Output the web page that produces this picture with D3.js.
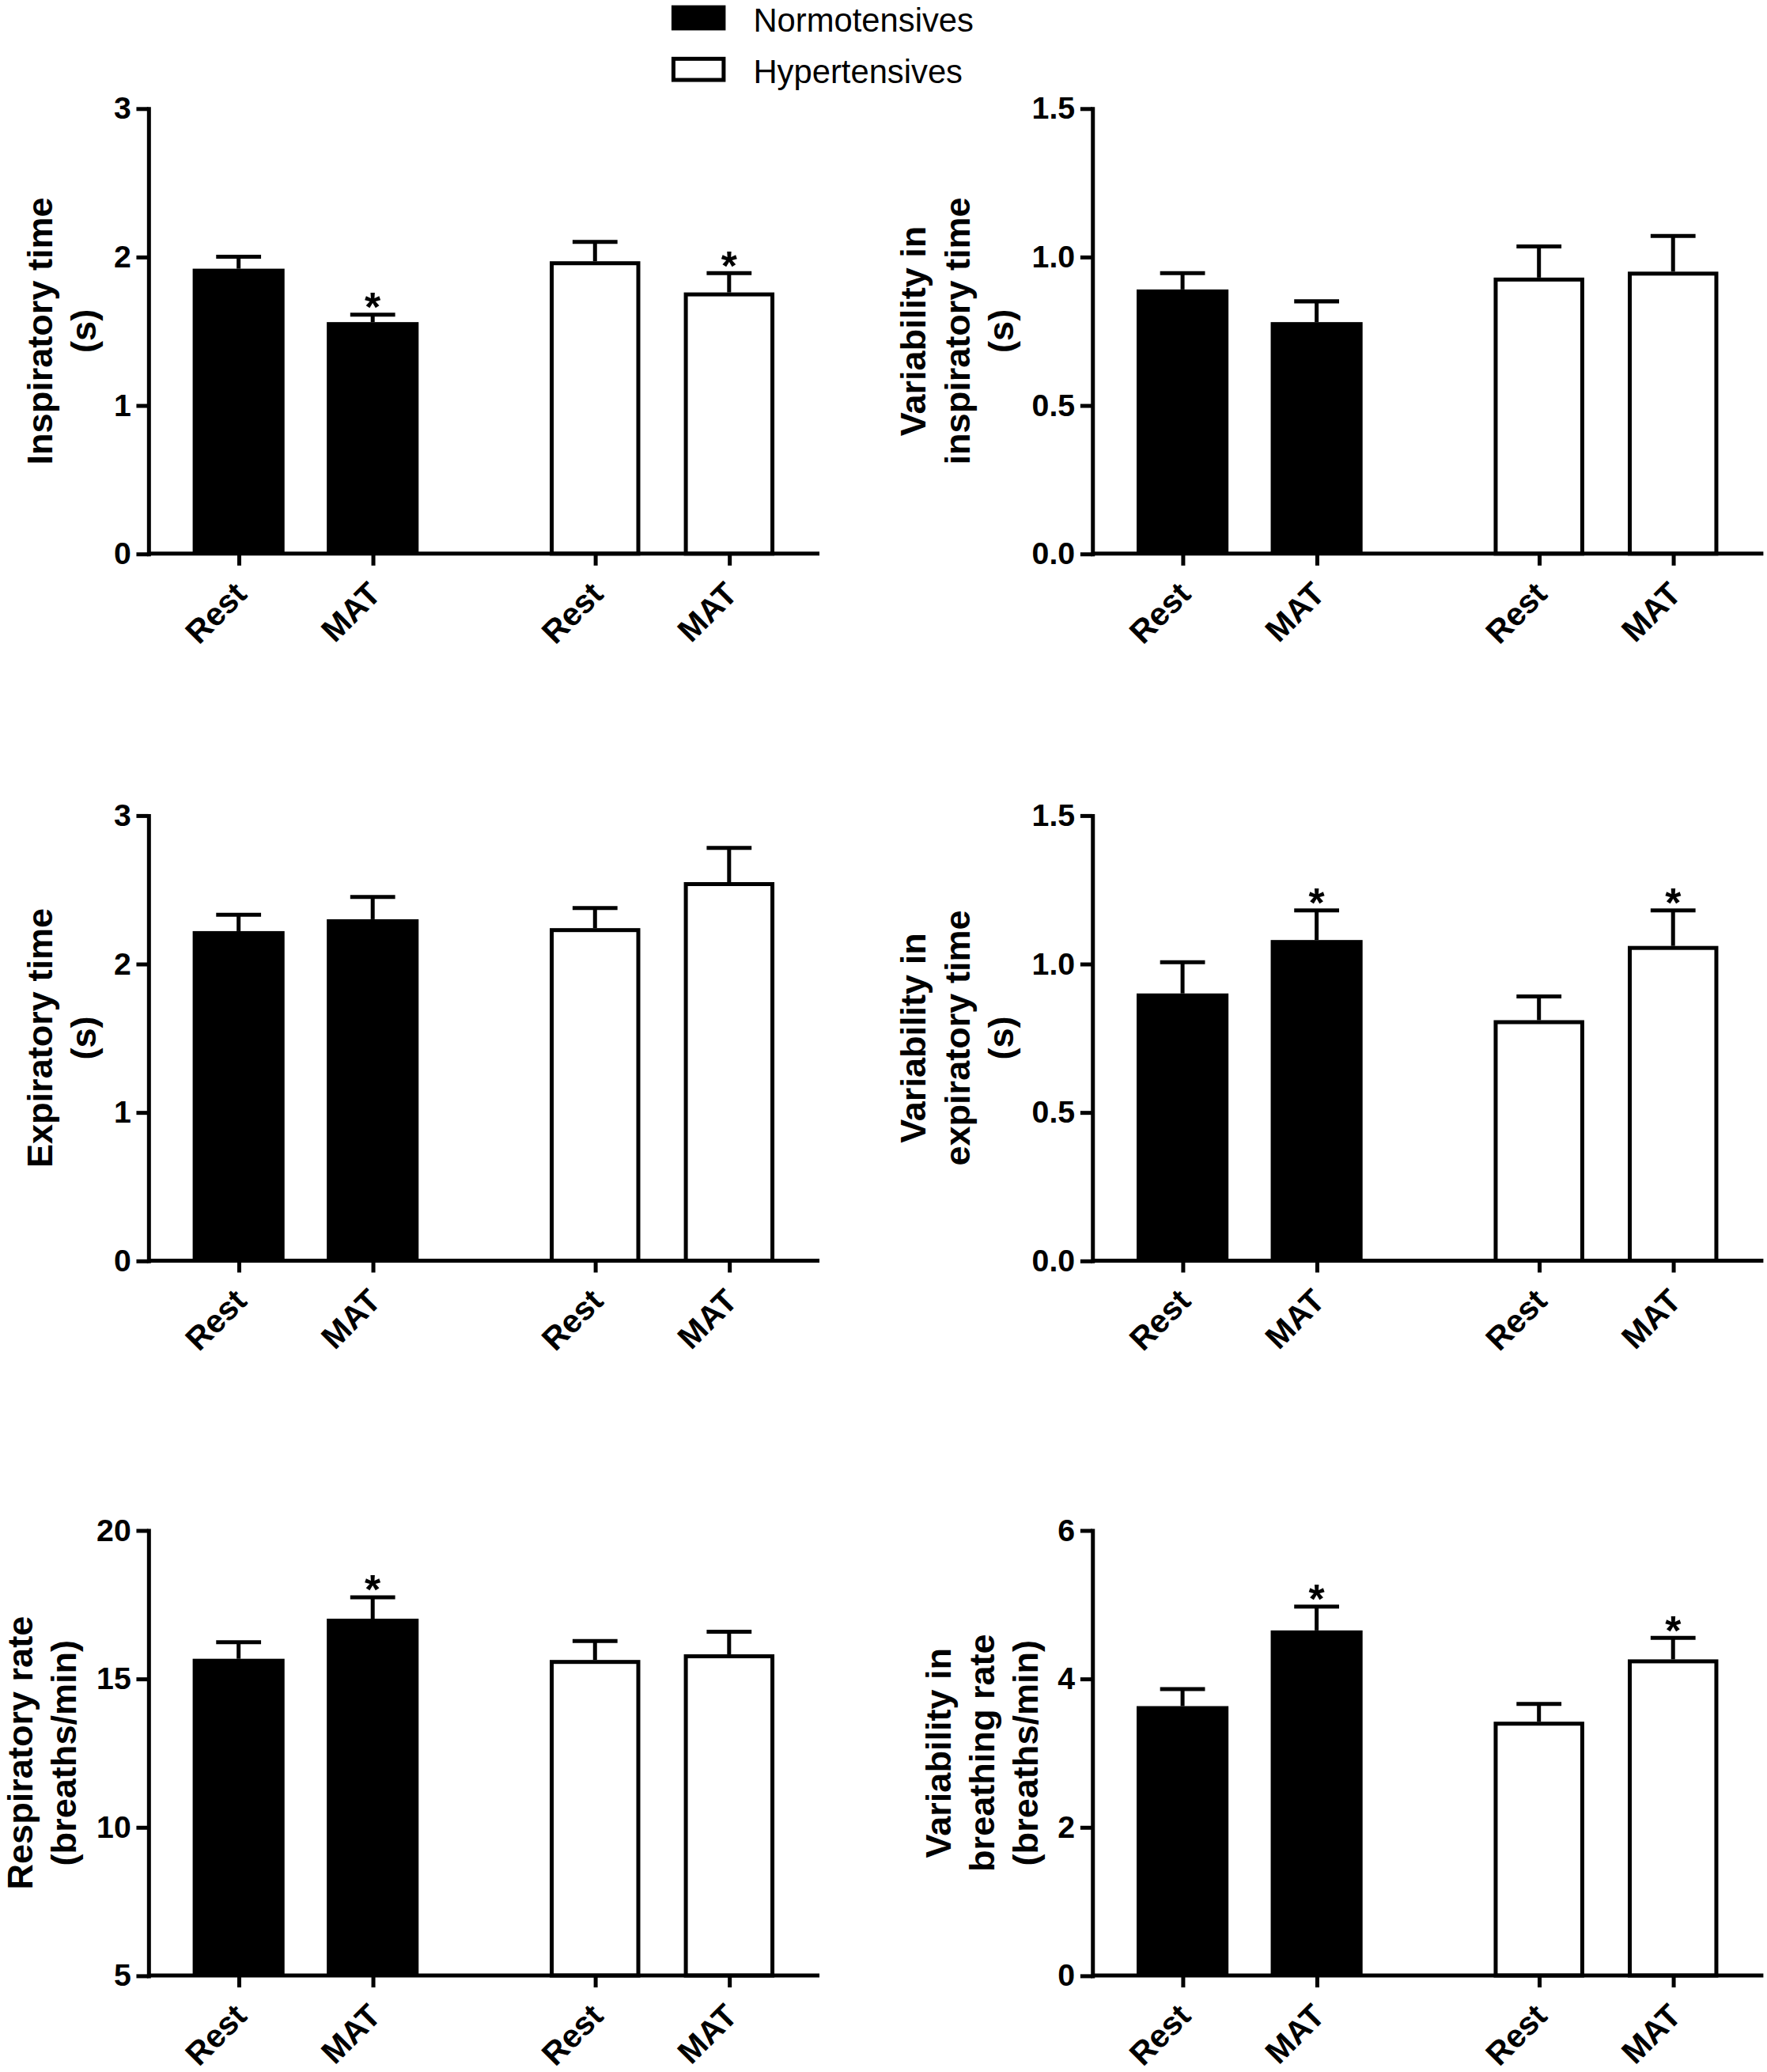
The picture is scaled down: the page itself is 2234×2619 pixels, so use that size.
<!DOCTYPE html>
<html>
<head>
<meta charset="utf-8">
<title>Breathing pattern at rest and during MAT</title>
<script src="https://d3js.org/d3.v7.min.js"></script>
<style>
  body { margin: 0; background: #fff; }
  svg { display: block; }
  text { font-family: "Liberation Sans", Arial, sans-serif; fill: #000; }
</style>
</head>
<body>
<svg id="chart"></svg>
<script>
// every series is in the order: Normo Rest, Normo MAT, Hyper Rest, Hyper MAT
const groups = ["Normotensives", "Hypertensives"];
const conditions = ["Rest", "MAT"];

const inspTime = [1.92, 1.56, 1.97, 1.76];
const inspTimeSem = [0.08, 0.05, 0.13, 0.13];
const inspTimeSig = [false, true, false, true];
const inspTimeTicks = [0, 1, 2, 3];

const inspVar = [0.89, 0.78, 0.93, 0.95];
const inspVarSem = [0.055, 0.07, 0.105, 0.12];
const inspVarSig = [false, false, false, false];
const inspVarTicks = [0, 0.5, 1, 1.5];

const expTime = [2.22, 2.30, 2.24, 2.55];
const expTimeSem = [0.11, 0.15, 0.135, 0.23];
const expTimeSig = [false, false, false, false];
const expTimeTicks = [0, 1, 2, 3];

const expVar = [0.90, 1.08, 0.81, 1.06];
const expVarSem = [0.105, 0.10, 0.08, 0.12];
const expVarSig = [false, true, false, true];
const expVarTicks = [0, 0.5, 1, 1.5];

const respRate = [15.67, 17.02, 15.63, 15.82];
const respRateSem = [0.56, 0.72, 0.64, 0.76];
const respRateSig = [false, true, false, false];
const respRateTicks = [5, 10, 15, 20];

const rateVar = [3.63, 4.65, 3.42, 4.26];
const rateVarSem = [0.23, 0.32, 0.24, 0.29];
const rateVarSig = [false, true, false, true];
const rateVarTicks = [0, 2, 4, 6];

const panels = [
  {row: 0, col: 0, mean: inspTime, sem: inspTimeSem, sig: inspTimeSig, ticks: inspTimeTicks, fmt: d3.format("d"),
   title: ["Inspiratory time", "(s)"], titleOff: 40},
  {row: 0, col: 1, mean: inspVar, sem: inspVarSem, sig: inspVarSig, ticks: inspVarTicks, fmt: d3.format(".1f"),
   title: ["Variability in", "inspiratory time", "(s)"], titleOff: 60},
  {row: 1, col: 0, mean: expTime, sem: expTimeSem, sig: expTimeSig, ticks: expTimeTicks, fmt: d3.format("d"),
   title: ["Expiratory time", "(s)"], titleOff: 40},
  {row: 1, col: 1, mean: expVar, sem: expVarSem, sig: expVarSig, ticks: expVarTicks, fmt: d3.format(".1f"),
   title: ["Variability in", "expiratory time", "(s)"], titleOff: 60},
  {row: 2, col: 0, mean: respRate, sem: respRateSem, sig: respRateSig, ticks: respRateTicks, fmt: d3.format("d"),
   title: ["Respiratory rate", "(breaths/min)"], titleOff: 55},
  {row: 2, col: 1, mean: rateVar, sem: rateVarSem, sig: rateVarSig, ticks: rateVarTicks, fmt: d3.format("d"),
   title: ["Variability in", "breathing rate", "(breaths/min)"], titleOff: 41}
];

const W = 1337, H = 1568;
const svg = d3.select("#chart")
  .attr("width", 2234).attr("height", 2619)
  .attr("viewBox", `0 0 ${W} ${H}`);

const colX = [112, 826.5];
const rowY = [82, 617, 1158];
const plotW = 508, plotH = 337;
const lw = 3;

const x0 = d3.scaleBand().domain(groups).range([0, plotW]).paddingInner(0.129).paddingOuter(0.006);
const x1 = d3.scaleBand().domain(conditions).range([0, x0.bandwidth()]).padding(0.315);
const keys = groups.flatMap(g => conditions.map(c => g + "|" + c));
const center = k => { const [g, c] = k.split("|"); return x0(g) + x1(c) + x1.bandwidth() / 2; };
const xTick = d3.scaleOrdinal().domain(keys).range(keys.map(center));

function drawPanel(p) {
  const g = svg.append("g").attr("transform", `translate(${colX[p.col]},${rowY[p.row]})`);
  const y = d3.scaleLinear().domain(d3.extent(p.ticks)).range([plotH, 0]);
  const rows = keys.map((k, i) => ({
    key: k, group: k.split("|")[0], cond: k.split("|")[1],
    mean: p.mean[i], sem: p.sem[i], sig: p.sig[i]
  }));
  const hollow = d => d.group === groups[1];

  // bars
  g.selectAll("rect.bar").data(rows).join("rect")
    .attr("class", "bar")
    .attr("x", d => x0(d.group) + x1(d.cond) + (hollow(d) ? 2 : 0))
    .attr("width", d => x1.bandwidth() - (hollow(d) ? 4 : 0))
    .attr("y", d => y(d.mean) + (hollow(d) ? lw / 2 : 0))
    .attr("height", d => plotH - y(d.mean) - (hollow(d) ? lw / 2 : 0))
    .attr("fill", d => hollow(d) ? "#fff" : "#000")
    .attr("stroke", d => hollow(d) ? "#000" : "none")
    .attr("stroke-width", lw);

  // error bars (upper only)
  g.selectAll("line.err").data(rows).join("line")
    .attr("class", "err")
    .attr("x1", d => center(d.key)).attr("x2", d => center(d.key))
    .attr("y1", d => y(d.mean)).attr("y2", d => y(d.mean + d.sem))
    .attr("stroke", "#000").attr("stroke-width", lw);
  g.selectAll("line.cap").data(rows).join("line")
    .attr("class", "cap")
    .attr("x1", d => center(d.key) - 17).attr("x2", d => center(d.key) + 17)
    .attr("y1", d => y(d.mean + d.sem)).attr("y2", d => y(d.mean + d.sem))
    .attr("stroke", "#000").attr("stroke-width", lw);

  // significance stars
  g.selectAll("text.star").data(rows.filter(d => d.sig)).join("text")
    .attr("class", "star")
    .attr("x", d => center(d.key))
    .attr("y", d => y(d.mean + d.sem) + 5)
    .attr("text-anchor", "middle")
    .attr("font-size", 31).attr("font-weight", "bold")
    .text("*");

  // y axis
  const ya = g.append("g")
    .call(d3.axisLeft(y).tickValues(p.ticks).tickFormat(p.fmt).tickSize(9).tickPadding(4).tickSizeOuter(0));
  ya.select(".domain").attr("stroke-width", lw).attr("stroke-linecap", "square");
  ya.selectAll(".tick line").attr("stroke-width", lw);
  ya.selectAll(".tick text").attr("font-size", 23.5).attr("font-weight", "bold")
    .attr("font-family", "'Liberation Sans', Arial, sans-serif");

  // x axis
  g.append("line")
    .attr("x1", 0).attr("x2", plotW)
    .attr("y1", plotH).attr("y2", plotH)
    .attr("stroke", "#000").attr("stroke-width", lw);
  const xa = g.append("g").attr("transform", `translate(0,${plotH})`)
    .call(d3.axisBottom(xTick).tickSize(9).tickFormat(k => k.split("|")[1]));
  xa.select(".domain").remove();
  xa.selectAll(".tick line").attr("stroke-width", lw);
  xa.selectAll(".tick text")
    .attr("x", 0).attr("y", 0).attr("dy", 0)
    .attr("transform", "translate(7,32) rotate(-45)")
    .attr("text-anchor", "end")
    .attr("font-size", 24.5).attr("font-weight", "bold")
    .attr("font-family", "'Liberation Sans', Arial, sans-serif");

  // axis title
  const n = p.title.length;
  g.append("text")
    .attr("transform", `translate(${-p.titleOff - (n - 1) * 33},${plotH / 2}) rotate(-90)`)
    .attr("text-anchor", "middle")
    .attr("font-size", 27).attr("font-weight", "bold")
    .selectAll("tspan").data(p.title).join("tspan")
    .attr("x", 0).attr("dy", (d, i) => i === 0 ? 0 : 33)
    .text(d => d);
}

panels.forEach(drawPanel);

// legend
const legend = svg.append("g").attr("transform", "translate(508,4)");
const lg = legend.selectAll("g").data(groups).join("g")
  .attr("transform", (d, i) => `translate(0,${i * 39})`);
lg.append("rect")
  .attr("x", (d, i) => i ? 1.5 : 0).attr("y", (d, i) => i ? 1.5 : 0)
  .attr("width", (d, i) => i ? 38 : 41).attr("height", (d, i) => i ? 16 : 19)
  .attr("fill", (d, i) => i ? "#fff" : "#000")
  .attr("stroke", (d, i) => i ? "#000" : "none")
  .attr("stroke-width", lw);
lg.append("text")
  .attr("x", 62).attr("y", 20)
  .attr("font-size", 25)
  .text(d => d);
</script>
</body>
</html>
